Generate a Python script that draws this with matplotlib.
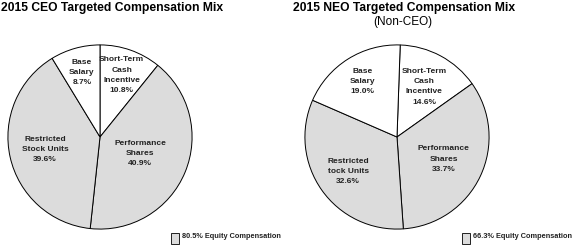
import numpy as np
import matplotlib.pyplot as plt
from matplotlib.patches import Rectangle

plt.rcParams['font.family'] = ['Liberation Sans', 'DejaVu Sans']

labels_ceo = ['Short-Term\nCash\nIncentive', 'Performance\nShares', 'Restricted\nStock Units', 'Base\nSalary']
values_ceo = [10.8, 40.9, 39.6, 8.7]
labels_neo = ['Short-Term\nCash\nIncentive', 'Performance\nShares', 'Restricted\ntock Units', 'Base\nSalary']
values_neo = [14.6, 33.7, 32.6, 19.0]
equity_ceo = '80.5% Equity Compensation'
equity_neo = '66.3% Equity Compensation'

white = 'white'
gray = '#dcdcdc'
colors = [white, gray, gray, white]

W, H = 573, 246
fig = plt.figure(figsize=(W / 100, H / 100), dpi=100)


def px_axes(cx, cy, r):
    return fig.add_axes([(cx - r) / W, (H - cy - r) / H, 2 * r / W, 2 * r / H])


def draw_pie(ax, vals, labs, start, dists):
    wedges, _ = ax.pie(vals, colors=colors, startangle=start, counterclock=False,
                       wedgeprops=dict(edgecolor='black', linewidth=0.7))
    for w, lab, v, d in zip(wedges, labs, vals, dists):
        ang = np.deg2rad((w.theta1 + w.theta2) / 2)
        ax.text(d * np.cos(ang), d * np.sin(ang), f'{lab}\n{v:.1f}%',
                ha='center', va='center', fontsize=6, fontweight='bold',
                linespacing=1.65, color='#222222')
    ax.set_xlim(-1.01, 1.01)
    ax.set_ylim(-1.01, 1.01)
    ax.set_aspect('equal')
    ax.axis('off')


ax1 = px_axes(100, 137, 93)
draw_pie(ax1, values_ceo, labels_ceo, 90, [0.71, 0.47, 0.61, 0.73])

ax2 = px_axes(397, 137, 93)
draw_pie(ax2, values_neo, labels_neo, 88, [0.62, 0.56, 0.65, 0.71])

fig.text(1 / W, 1 - 8 / H, '2015 CEO Targeted Compensation Mix', fontsize=8.7,
         fontweight='bold', ha='left', va='center')
fig.text(293 / W, 1 - 8 / H, '2015 NEO Targeted Compensation Mix', fontsize=8.7,
         fontweight='bold', ha='left', va='center')
fig.text(403 / W, 1 - 21.5 / H, '(Non-CEO)', fontsize=8.5, ha='center', va='center')

for x0, txt in [(171, equity_ceo), (462, equity_neo)]:
    fig.patches.append(Rectangle((x0 / W, 1 - 244 / H), 8 / W, 11 / H, transform=fig.transFigure,
                                 facecolor=gray, edgecolor='black', linewidth=0.6))
    fig.text((x0 + 11) / W, 1 - 236 / H, txt, fontsize=5.3, fontweight='bold',
             ha='left', va='center', color='#222222')

fig.savefig('out.png', dpi=100, facecolor='white')
